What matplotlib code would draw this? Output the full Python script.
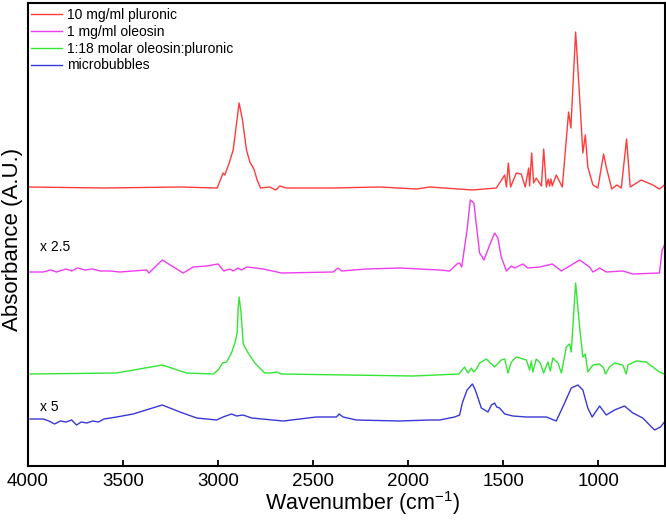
import matplotlib
matplotlib.use('Agg')
import matplotlib.pyplot as plt
import numpy as np
from matplotlib.ticker import MultipleLocator

plt.rcParams['font.family'] = ['Liberation Sans', 'DejaVu Sans']
plt.rcParams['mathtext.fontset'] = 'custom'
plt.rcParams['mathtext.rm'] = 'Liberation Sans'

# FTIR spectra: wavenumber (cm-1) and absorbance above each trace's own baseline
pluronic_wn = [4000, 3600, 3200, 3005, 2974, 2965, 2942, 2921, 2903, 2890, 2872, 2851, 2833, 2812,
               2795, 2777, 2730, 2697, 2676, 2640, 2400, 2150, 1957, 1887, 1662, 1537, 1493, 1484,
               1474, 1462, 1432, 1406, 1385, 1367, 1362, 1351, 1341, 1327, 1300, 1288, 1274, 1264,
               1257, 1250, 1243, 1222, 1190, 1157, 1145, 1120, 1099, 1082, 1069, 1056, 1029, 1003,
               973, 959, 930, 903, 880, 852, 833, 775, 714, 679, 653]
pluronic_abs = [0.01, 0.00, 0.01, 0.00, 0.15, 0.13, 0.25, 0.38, 0.65, 0.85, 0.68, 0.38, 0.26, 0.19,
                0.08, 0.00, 0.01, -0.02, 0.02, 0.00, 0.00, 0.01, -0.01, 0.01, -0.02, 0.00, 0.13, 0.01,
                0.25, 0.01, 0.15, 0.14, 0.01, 0.20, 0.02, 0.35, 0.05, 0.10, 0.02, 0.39, 0.01, 0.09,
                0.02, 0.09, 0.02, 0.13, 0.01, 0.76, 0.60, 1.56, 0.91, 0.35, 0.53, 0.21, 0.03, 0.00,
                0.34, 0.21, -0.01, 0.03, 0.00, 0.49, 0.01, 0.08, 0.03, -0.01, 0.03]

oleosin_wn = [3990, 3921, 3880, 3850, 3800, 3770, 3740, 3700, 3660, 3620, 3569, 3517, 3376, 3364,
              3294, 3184, 3131, 3061, 3000, 2970, 2938, 2921, 2895, 2877, 2848, 2763, 2667, 2396,
              2369, 2351, 2220, 2045, 1835, 1782, 1744, 1730, 1719, 1691, 1674, 1655, 1639, 1625,
              1602, 1572, 1546, 1529, 1511, 1484, 1458, 1441, 1397, 1371, 1309, 1243, 1195, 1099,
              1047, 1029, 994, 959, 872, 819, 679, 665, 653]
oleosin_abs = [0.00, 0.00, 0.02, 0.00, 0.03, 0.01, 0.04, 0.02, 0.03, 0.01, 0.01, 0.00, 0.02, -0.01,
               0.12, -0.01, 0.05, 0.06, 0.08, 0.01, 0.03, 0.01, 0.04, 0.02, 0.05, 0.03, -0.01, 0.00,
               0.04, 0.01, 0.03, 0.04, 0.02, 0.01, 0.08, 0.09, 0.05, 0.42, 0.72, 0.69, 0.42, 0.19,
               0.12, 0.27, 0.39, 0.34, 0.15, 0.01, 0.06, 0.04, 0.08, 0.04, 0.05, 0.08, 0.01, 0.12,
               0.05, 0.00, 0.04, 0.00, 0.01, -0.02, -0.01, 0.22, 0.27]

mixture_wn = [3990, 3534, 3294, 3166, 3026, 3000, 2977, 2956, 2930, 2912, 2900, 2895, 2890, 2880,
              2868, 2842, 2807, 2755, 2719, 2693, 2667, 1975, 1734, 1704, 1686, 1668, 1656, 1642,
              1625, 1590, 1546, 1511, 1493, 1476, 1458, 1432, 1379, 1362, 1353, 1345, 1327, 1306,
              1288, 1266, 1253, 1240, 1213, 1195, 1169, 1152, 1143, 1120, 1099, 1082, 1069, 1056,
              1029, 994, 973, 963, 942, 915, 872, 854, 845, 801, 749, 679, 653]
mixture_abs = [0.00, 0.01, 0.09, 0.01, 0.00, 0.04, 0.11, 0.12, 0.21, 0.31, 0.41, 0.65, 0.77, 0.62,
               0.30, 0.21, 0.11, 0.01, 0.01, 0.02, 0.00, -0.02, 0.00, 0.07, 0.01, 0.06, 0.02, 0.05,
               0.11, 0.15, 0.07, 0.14, 0.15, 0.01, 0.12, 0.17, 0.14, 0.04, 0.13, 0.02, 0.15, 0.11,
               0.01, 0.12, 0.03, 0.16, 0.11, 0.01, 0.27, 0.30, 0.22, 0.91, 0.47, 0.17, 0.20, 0.02,
               0.09, 0.10, 0.06, 0.00, 0.07, 0.11, 0.09, 0.00, 0.09, 0.13, 0.12, 0.02, 0.00]

bubbles_wn = [3990, 3920, 3890, 3860, 3830, 3800, 3770, 3745, 3720, 3690, 3660, 3630, 3600, 3534,
              3447, 3294, 3201, 3113, 3008, 2974, 2930, 2903, 2869, 2824, 2658, 2483, 2378, 2364,
              2343, 2273, 2045, 1887, 1835, 1756, 1730, 1716, 1691, 1663, 1650, 1642, 1616, 1581,
              1563, 1546, 1535, 1520, 1493, 1450, 1379, 1274, 1222, 1178, 1143, 1108, 1082, 1056,
              1033, 994, 959, 915, 863, 819, 767, 705, 674, 653]
bubbles_abs = [0.00, 0.00, -0.02, -0.05, -0.02, -0.03, -0.01, -0.06, -0.03, -0.04, -0.02, -0.03, 0.00, 0.02,
               0.05, 0.14, 0.07, 0.01, -0.01, 0.02, 0.05, 0.03, 0.04, 0.01, -0.02, 0.02, 0.02, 0.05,
               0.02, -0.01, -0.02, -0.01, -0.01, 0.02, 0.04, 0.16, 0.29, 0.35, 0.30, 0.26, 0.11, 0.07,
               0.14, 0.16, 0.12, 0.11, 0.05, 0.03, 0.02, 0.02, -0.02, 0.16, 0.31, 0.34, 0.29, 0.11,
               0.02, 0.13, 0.04, 0.09, 0.13, 0.06, 0.01, -0.11, -0.08, -0.03]

labels = ['10 mg/ml pluronic', '1 mg/ml oleosin', '1:18 molar oleosin:pluronic', 'microbubbles']

fig = plt.figure(figsize=(6.66, 5.24), dpi=100)
ax = fig.add_axes([28 / 666, 58 / 524, 637 / 666, 463 / 524])

# vertical stacking of the traces
offsets = [2.78, 1.94, 0.92, 0.47]
colors = ['#ff3b3b', '#f03cf0', '#33e633', '#3838d8']
spectra = [(pluronic_wn, pluronic_abs), (oleosin_wn, oleosin_abs),
           (mixture_wn, mixture_abs), (bubbles_wn, bubbles_abs)]

for (wn, a), off, c, lab in zip(spectra, offsets, colors, labels):
    ax.plot(wn, np.array(a) + off, color=c, lw=1.0, label=lab)

ax.set_xlim(4000, 650)
ax.set_ylim(0, 4.63)

ax.text(3935, offsets[1] + 0.18, 'x 2.5', fontsize=10, va='bottom')
ax.text(3935, offsets[3] + 0.05, 'x 5', fontsize=10, va='bottom')

ax.xaxis.set_major_locator(MultipleLocator(500))
ax.xaxis.set_minor_locator(MultipleLocator(1000))
ax.tick_params(axis='x', which='major', direction='in', length=4, width=1.3,
               labelsize=13.5, pad=5)
ax.tick_params(axis='x', which='minor', direction='in', length=8, width=1.3)
ax.set_yticks([])
for sp in ax.spines.values():
    sp.set_linewidth(1.5)

ax.set_xlabel('Wavenumber (cm$^{\\mathregular{-1}}$)', fontsize=15.5)
ax.xaxis.set_label_coords(0.525, -0.05)
ax.set_ylabel('Absorbance (A.U.)', fontsize=16)
ax.yaxis.set_label_coords(-0.008, 0.49)

ax.legend(loc='upper left', bbox_to_anchor=(-0.006, 1.004), frameon=False, fontsize=10,
          handlelength=2.2, handletextpad=0.4, labelspacing=0.2, borderaxespad=0.3,
          borderpad=0.2)

fig.savefig('out.png', dpi=100)
